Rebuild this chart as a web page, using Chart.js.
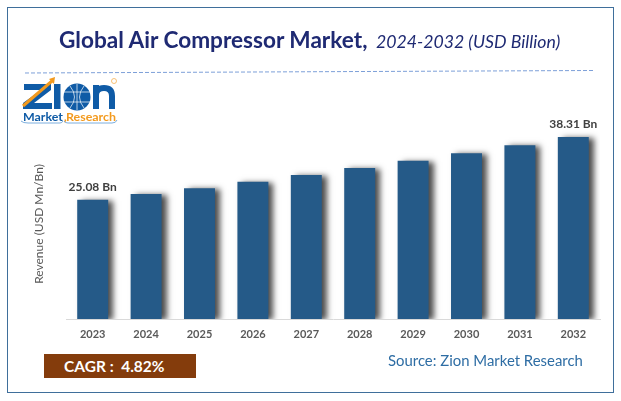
<!DOCTYPE html>
<html><head><meta charset="utf-8">
<script src="https://cdn.jsdelivr.net/npm/chart.js@4"></script>
<style>
html,body{margin:0;padding:0;background:#fff;width:621px;height:401px;overflow:hidden}
#wrap{position:relative;width:621px;height:401px;font-family:Lato,"Open Sans",sans-serif}
#c{position:absolute;left:0;top:0}
#frame{position:absolute;left:7px;top:7px;width:607px;height:386px;box-sizing:border-box;border:1px solid #3f6f9b}
#title{position:absolute;left:59px;top:26px;white-space:nowrap;color:#1f2a73;font-size:22.6px;line-height:28px;font-weight:700}
#title i{font-weight:400;font-size:17.7px;margin-left:3px}
#cagr{position:absolute;left:44px;top:354px;width:152px;height:24px;background:#843c0c;color:#fff;font-weight:700;font-size:15.5px;line-height:24px;padding-left:20px;box-sizing:border-box;white-space:pre}
#src{position:absolute;left:388px;top:349px;color:#2e6da4;font-size:14.9px;line-height:22px;white-space:nowrap}
#art{position:absolute;left:0;top:0}
</style></head><body>
<div id="wrap">
<canvas id="c" width="621" height="401"></canvas>
<div id="frame"></div>
<div id="title">Global Air Compressor Market, <i>2024-2032 (USD Billion)</i></div>
<svg id="art" width="621" height="130" viewBox="0 0 621 130">
<line x1="25" y1="73" x2="594" y2="70.5" stroke="#7c9fd8" stroke-width="1" stroke-dasharray="4 2"/>
<path d="M24 84 H51 V90 L34 103 H52 V109 H23 V103 L41 90 H24 Z" fill="#0f5ba6"/>
<rect x="54" y="84" width="6.5" height="25" fill="#0f5ba6"/>
<path d="M23 106 L52 81" stroke="#f39a1e" stroke-width="3" fill="none"/>
<path d="M49 79 L55 77 L54 84 Z" fill="#f39a1e"/>
<circle cx="77" cy="97" r="13.5" fill="#0f5ba6"/>
<path d="M64 92 H90 M64 102 H90 M77 84 V110 M70 86 Q79 97 70 108 M84 86 Q75 97 84 108" stroke="#fff" stroke-width=".7" fill="none"/>
<path d="M96 109 V85 M96 95 Q96 88 104 88 Q112 88 112 96 V109" stroke="#0f5ba6" stroke-width="6" fill="none"/>
<text x="23" y="121" font-family="Lato,sans-serif" font-weight="700" font-size="11.5" fill="#0f5ba6" textLength="40" lengthAdjust="spacingAndGlyphs">Market</text>
<text x="64" y="121" font-family="Lato,sans-serif" font-weight="700" font-size="11.5" fill="#f39a1e">,</text>
<text x="66" y="121" font-family="Lato,sans-serif" font-weight="700" font-size="11.5" fill="#f39a1e" textLength="50" lengthAdjust="spacingAndGlyphs">Research</text>
<path d="M21 121 Q23 123 28 123 H60 Q62 123 63 121 M64 121 Q65 123 68 123 H112 Q116 123 117 120" stroke="#5b9bd5" stroke-width=".8" fill="none"/>
<circle cx="114" cy="81" r="2.5" fill="none" stroke="#f39a1e" stroke-width=".6"/>
</svg>
<div id="cagr">CAGR :  4.82%</div>
<div id="src">Source: Zion Market Research</div>
</div>
<script>
const categories=["2023","2024","2025","2026","2027","2028","2029","2030","2031","2032"];
const revenue=[25.08,26.3,27.55,28.9,30.3,31.8,33.3,34.9,36.6,38.31];
const barLabels=["25.08 Bn","","","","","","","","","38.31 Bn"];
const axisTitle="Revenue (USD Mn/Bn)";
const shadowPlugin={id:'shadow',
 beforeDatasetDraw(ch){const x=ch.ctx;x.save();x.shadowColor='rgba(0,0,0,.7)';x.shadowBlur=6;x.shadowOffsetX=5;x.shadowOffsetY=1;},
 afterDatasetDraw(ch){ch.ctx.restore();}};
const labelPlugin={id:'labels',afterDatasetsDraw(ch){const x=ch.ctx,m=ch.getDatasetMeta(0);x.save();
 x.font='700 12px Lato,sans-serif';x.fillStyle='#404040';x.textAlign='center';x.textBaseline='alphabetic';
 m.data.forEach((b,i)=>{if(barLabels[i])x.fillText(barLabels[i],b.x,b.y-9);});x.restore();}};
new Chart(document.getElementById('c'),{type:'bar',
 data:{labels:categories,datasets:[{data:revenue,backgroundColor:'#255a88',categoryPercentage:1,barPercentage:.58,borderWidth:0}]},
 plugins:[shadowPlugin,labelPlugin],
 options:{responsive:false,animation:false,devicePixelRatio:1,
  layout:{padding:{left:32,right:21,top:129,bottom:0}},
  plugins:{legend:{display:false},title:{display:false},tooltip:{enabled:false}},
  scales:{
   x:{grid:{display:false,drawTicks:false},border:{color:'#d9d9d9',width:1},
      ticks:{color:'#595959',font:{family:'Lato',size:11,weight:'700'},padding:9,maxRotation:0},
      afterFit(s){s.height=82;}},
   y:{min:0,max:40,grid:{display:false,drawTicks:false},border:{display:false},
      ticks:{display:false},
      title:{display:true,text:axisTitle,color:'#595959',font:{family:'Lato',size:12},padding:0},
      afterFit(s){s.width=34;}}
  }}});
</script>
</body></html>
